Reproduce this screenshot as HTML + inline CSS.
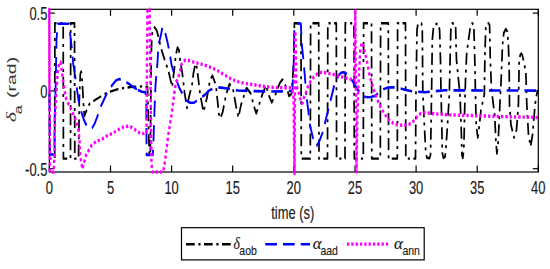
<!DOCTYPE html><html><head><meta charset="utf-8"><style>html,body{margin:0;padding:0;background:#fff;overflow:hidden}svg{display:block}</style></head><body><svg width="550" height="269" viewBox="0 0 550 269">
<rect width="550" height="269" fill="#fff"/>
<g stroke="#000" stroke-width="1.2" fill="none">
<rect x="49.4" y="9.3" width="488.9" height="162.7"/>
<line x1="49.4" y1="172.0" x2="49.4" y2="165.5"/>
<line x1="49.4" y1="9.3" x2="49.4" y2="15.8"/>
<line x1="110.5" y1="172.0" x2="110.5" y2="165.5"/>
<line x1="110.5" y1="9.3" x2="110.5" y2="15.8"/>
<line x1="171.6" y1="172.0" x2="171.6" y2="165.5"/>
<line x1="171.6" y1="9.3" x2="171.6" y2="15.8"/>
<line x1="232.7" y1="172.0" x2="232.7" y2="165.5"/>
<line x1="232.7" y1="9.3" x2="232.7" y2="15.8"/>
<line x1="293.8" y1="172.0" x2="293.8" y2="165.5"/>
<line x1="293.8" y1="9.3" x2="293.8" y2="15.8"/>
<line x1="355.0" y1="172.0" x2="355.0" y2="165.5"/>
<line x1="355.0" y1="9.3" x2="355.0" y2="15.8"/>
<line x1="416.1" y1="172.0" x2="416.1" y2="165.5"/>
<line x1="416.1" y1="9.3" x2="416.1" y2="15.8"/>
<line x1="477.2" y1="172.0" x2="477.2" y2="165.5"/>
<line x1="477.2" y1="9.3" x2="477.2" y2="15.8"/>
<line x1="538.3" y1="172.0" x2="538.3" y2="165.5"/>
<line x1="538.3" y1="9.3" x2="538.3" y2="15.8"/>
<line x1="49.4" y1="168.7" x2="54.9" y2="168.7"/>
<line x1="538.3" y1="168.7" x2="532.8" y2="168.7"/>
<line x1="49.4" y1="90.9" x2="54.9" y2="90.9"/>
<line x1="538.3" y1="90.9" x2="532.8" y2="90.9"/>
<line x1="49.4" y1="13.1" x2="54.9" y2="13.1"/>
<line x1="538.3" y1="13.1" x2="532.8" y2="13.1"/>
</g>
<clipPath id="c"><rect x="46.4" y="6.300000000000001" width="494.9" height="168.7"/></clipPath>
<g clip-path="url(#c)"><g transform="scale(0.72,1)" fill="none" stroke-linejoin="round">
<polyline points="68.75,90.9 69.17,158.6 75.97,158.6 76.25,23.2 87.78,23.2 88.06,158.6 97.92,158.6 98.19,23.2 103.47,23.2 103.89,158.6 109.03,158.6 110.14,100.0 111.53,74.0 112.78,71.5 113.89,78.0 115.00,92.0 116.11,106.0 117.22,116.0 118.75,113.0 121.11,109.0 124.17,104.0 131.94,100.0 138.89,97.0 146.81,93.5 154.17,91.3 163.75,89.2 172.22,88.0 181.39,87.0 191.67,86.5 201.39,86.3 204.86,87.0 207.36,155.0 208.75,155.0 210.00,60.0 210.83,36.0 212.22,30.5 214.58,27.3 217.36,30.0 219.44,35.0 222.22,43.7 224.86,51.0 229.17,61.0 233.89,70.7 237.50,82.0 238.89,87.0 240.28,80.0 242.64,65.6 244.17,55.0 246.53,47.5 248.61,50.0 249.58,57.8 253.19,73.0 256.25,92.3 258.33,102.0 259.72,108.0 262.50,96.8 266.67,84.9 268.75,73.0 271.39,63.4 273.61,68.0 277.92,94.0 282.64,112.0 287.36,97.9 291.67,80.0 295.00,75.6 299.86,85.0 304.03,114.0 305.97,118.3 309.31,112.0 313.89,95.0 318.75,84.0 323.47,88.6 327.78,106.0 331.11,117.5 334.72,105.0 342.36,88.0 347.92,93.0 353.47,108.0 355.97,113.5 358.33,108.0 364.58,94.0 369.44,85.0 372.92,94.5 377.36,102.5 382.50,94.7 388.75,82.8 392.36,79.5 399.03,89.5 401.39,96.0 404.86,94.0 408.33,60.0 408.89,23.2 418.06,23.2 418.47,158.6 430.97,158.6 431.39,23.2 442.64,23.2 443.06,158.6 454.86,158.6 455.28,23.2 467.08,23.2 467.50,158.6 479.17,158.6 479.58,23.2 491.67,23.2 492.08,158.6 504.58,158.6 505.00,23.2 515.97,23.2 516.39,158.6 528.19,158.6 528.61,23.2 539.31,23.2 539.72,158.6 551.81,158.6 552.22,23.2 563.19,23.2 563.61,158.6 577.08,158.6 577.78,91.0 579.17,30.0 580.56,23.5 585.42,23.5 586.53,30.0 587.22,91.0 589.58,128.0 591.39,153.0 593.06,157.8 596.53,158.2 597.92,155.0 598.61,128.0 599.44,91.0 600.42,40.0 602.08,27.0 604.17,24.0 609.03,24.0 610.56,30.0 611.81,60.0 612.50,91.0 613.61,125.0 614.31,153.0 615.97,158.0 618.06,157.0 619.17,150.0 621.25,128.0 624.03,95.0 625.42,50.0 626.39,25.0 628.47,23.3 631.25,23.5 632.78,27.0 634.03,60.0 636.81,80.0 638.89,95.0 640.56,128.0 641.67,155.0 642.78,158.0 644.17,150.0 644.86,128.0 645.28,112.0 646.53,80.0 648.19,53.0 650.69,40.0 653.61,25.0 655.83,23.2 658.06,25.0 659.44,60.0 660.56,100.0 661.39,125.0 663.61,137.5 665.28,128.0 668.06,110.0 672.64,95.0 673.61,50.0 674.72,28.0 676.39,23.5 678.47,23.3 680.00,25.0 680.97,60.0 682.64,90.0 687.08,115.0 688.61,140.0 690.14,153.5 691.67,145.0 693.33,120.0 694.86,95.0 695.83,83.4 697.92,45.0 699.72,33.0 702.50,29.0 704.58,31.5 706.11,45.0 707.22,70.0 707.64,105.0 709.72,125.0 713.89,137.5 717.36,130.0 720.00,105.0 721.11,62.0 722.50,55.0 723.89,53.5 725.42,55.0 728.47,65.0 730.42,73.4 731.67,105.0 734.03,135.0 736.94,146.5 739.58,135.0 742.78,108.0 744.17,99.0 745.83,93.0 748.06,90.0" stroke="#000" stroke-width="2.4" stroke-dasharray="12.1 5.1 3.0 4.8"/>
<polyline points="68.75,92.0 69.17,154.5 75.56,154.5 75.97,120.0 77.50,80.0 78.47,40.0 80.14,23.8 95.83,23.8 97.22,32.5 99.72,48.5 101.81,64.5 104.17,74.6" stroke="#0000ff" stroke-width="2.6" stroke-dasharray="16.2 8.4" stroke-dashoffset="21.98"/>
<polyline points="104.17,74.6 108.75,99.0 111.81,109.5 116.39,119.5 119.44,124.5 123.61,127.8 127.92,128.0 131.25,124.0 134.44,118.0 140.28,106.0 148.33,93.5 152.78,88.0 157.36,83.7 161.11,80.5 165.00,79.1 169.44,79.5 173.61,81.5 178.89,83.7 184.72,86.8 191.53,90.0" stroke="#0000ff" stroke-width="2.6" stroke-dasharray="16.2 8.4" stroke-dashoffset="11.55"/>
<polyline points="191.53,90.0 197.22,91.8 202.08,92.3 203.19,100.0 203.61,155.0 212.22,155.0 213.19,140.0 214.58,110.0 215.97,85.0 218.47,65.0 220.28,44.4 223.33,35.5 225.69,27.0 227.78,28.5 229.86,34.0 232.36,41.2 234.86,50.0 238.33,65.0 242.50,75.5 246.53,83.0 249.31,88.3 252.08,92.0 256.25,97.5 260.42,101.2 263.89,102.8 269.72,102.7 273.61,100.5 277.92,98.3 284.31,95.0 290.83,90.3 299.86,87.5 306.94,87.6 315.28,88.5 330.56,90.5 347.22,91.0 375.00,91.5 395.83,91.3 406.11,90.8 408.06,60.0 408.75,31.0 411.81,23.5 417.78,23.5 419.17,44.5 421.53,60.6 423.61,78.0 425.42,95.0" stroke="#0000ff" stroke-width="2.6" stroke-dasharray="16.2 8.4" stroke-dashoffset="2.54"/>
<polyline points="425.42,95.0 428.47,112.3 429.58,122.3 434.72,138.1 437.22,143.0 439.86,145.7 443.06,142.0 447.64,133.5 451.53,122.5 456.67,107.5 460.97,95.0 464.17,85.5 470.56,75.1 473.61,72.8 477.08,72.3 482.22,74.2 486.11,77.5 490.00,81.6 494.44,87.0 499.86,92.7 504.17,96.0 509.44,97.3" stroke="#0000ff" stroke-width="2.6" stroke-dasharray="16.2 8.4" stroke-dashoffset="20.28"/>
<polyline points="509.44,97.3 515.28,97.0 521.81,95.4 527.78,91.5 533.33,88.9 538.89,87.6 546.25,87.3 553.33,87.9 562.50,89.8 571.94,91.3 590.56,92.2 604.17,91.2 618.06,90.3 652.78,90.4 694.44,90.5 747.92,90.6" stroke="#0000ff" stroke-width="2.6" stroke-dasharray="16.2 8.4" stroke-dashoffset="0.00"/>
<polyline points="68.75,90.0 68.47,9.3 69.17,172.0 74.72,172.0 75.83,150.0 76.11,120.0 78.06,95.0 79.03,85.0 79.86,75.0 80.97,68.0 82.36,63.5 84.03,62.0 85.14,66.0 86.53,75.0 88.06,84.0 89.72,90.3 90.97,96.8 93.06,101.0 95.42,104.5 100.00,111.0 105.56,120.5 109.31,131.4 110.56,142.0 111.25,155.0 113.19,163.5 114.58,169.0 116.39,164.0 119.31,155.5 123.47,150.1 127.64,144.8 134.17,141.2 140.83,139.6 147.22,136.4 157.64,132.7 167.92,128.0 172.92,126.6 178.19,126.2 181.94,127.0 185.97,128.9 193.75,132.7 200.14,133.6 203.47,132.5 204.72,9.3 207.78,9.3 210.28,160.0 211.39,172.0 226.39,172.0 228.47,165.0 233.75,135.0 238.19,115.0 242.08,93.0 243.06,89.5 243.89,84.3 247.50,77.8 250.00,71.3 251.39,65.5 254.17,61.6 257.64,60.1 262.92,60.7 268.75,62.2 277.78,63.8 284.17,65.1 295.69,68.2 304.17,71.5 313.33,75.5 322.22,79.5 331.11,81.8 340.28,83.5 351.67,84.6 363.89,86.2 376.94,87.3 388.89,87.6 399.72,87.8 404.86,87.8 407.64,95.0 409.03,173.5 410.14,31.0 411.11,60.0 411.67,86.1 414.58,91.7 417.64,100.0 419.17,103.5 420.56,102.5 422.22,97.3 425.42,91.7 427.78,86.1 431.94,80.5 437.92,75.3 442.36,73.0 447.50,72.2 452.78,72.8 461.53,74.2 468.06,75.5 475.69,77.0 483.06,78.5 488.89,79.5 492.36,80.0 493.47,9.3 495.14,172.0 496.25,120.0 497.50,90.0 498.89,70.0 500.42,50.0 502.36,42.5 504.44,46.0 507.50,54.2 510.42,64.0 512.78,73.5 515.97,82.0 519.17,89.9 522.92,97.5 526.94,104.7 531.25,110.5 535.97,115.9 540.97,120.5 546.25,123.3 551.39,124.8 558.75,125.3 567.78,124.4 571.53,122.8 575.56,120.4 579.58,116.8 583.33,114.0 586.81,113.0 590.97,112.8 597.22,113.3 605.28,113.9 625.00,114.9 652.78,115.5 680.56,116.2 708.33,116.8 747.92,117.5" stroke="#ff00ff" stroke-width="3.4" stroke-dasharray="3.2 2.8"/>
</g></g>
<g font-family="Liberation Sans, sans-serif" font-size="18.5" fill="#1a1a1a" stroke="#1a1a1a" stroke-width="0.15">
<text transform="translate(49.4,193.5) scale(0.7,1)" text-anchor="middle">0</text>
<text transform="translate(110.5,193.5) scale(0.7,1)" text-anchor="middle">5</text>
<text transform="translate(171.6,193.5) scale(0.7,1)" text-anchor="middle">10</text>
<text transform="translate(232.7,193.5) scale(0.7,1)" text-anchor="middle">15</text>
<text transform="translate(293.8,193.5) scale(0.7,1)" text-anchor="middle">20</text>
<text transform="translate(355.0,193.5) scale(0.7,1)" text-anchor="middle">25</text>
<text transform="translate(416.1,193.5) scale(0.7,1)" text-anchor="middle">30</text>
<text transform="translate(477.2,193.5) scale(0.7,1)" text-anchor="middle">35</text>
<text transform="translate(538.3,193.5) scale(0.7,1)" text-anchor="middle">40</text>
<text transform="translate(47.4,20.0) scale(0.7,1)" text-anchor="end">0.5</text>
<text transform="translate(47.4,97.8) scale(0.7,1)" text-anchor="end">0</text>
<text transform="translate(47.4,175.6) scale(0.7,1)" text-anchor="end">-0.5</text>
<text transform="translate(292.8,218.5) scale(0.7,1)" text-anchor="middle">time (s)</text>
<text transform="translate(15.8,122.3) rotate(-90) scale(1,0.7)" font-size="22" stroke-width="0" fill="#383838" font-family="Liberation Serif, serif" font-style="italic">δ</text>
<text transform="translate(21.7,114.2) rotate(-90) scale(1,0.7)" font-size="16" stroke-width="0" fill="#383838" >a</text>
<text transform="translate(15.5,98.0) rotate(-90) scale(1,0.7)" font-size="19.5" stroke-width="0" fill="#383838" >(rad)</text>
</g>
<rect x="181.5" y="227.7" width="242.7" height="32.2" fill="#fff" stroke="#000" stroke-width="1.2"/>
<g transform="scale(0.72,1)" fill="none">
<line x1="258.33" y1="244.2" x2="320.42" y2="244.2" stroke="#000" stroke-width="2.4" stroke-dasharray="12.1 5.1 3.0 4.8"/>
<line x1="368.47" y1="244.3" x2="430.56" y2="244.3" stroke="#0000ff" stroke-width="2.6" stroke-dasharray="16.2 8.4"/>
<line x1="481.94" y1="244.1" x2="541.67" y2="244.1" stroke="#ff00ff" stroke-width="3.4" stroke-dasharray="3.2 2.8"/>
</g>
<g font-family="Liberation Sans, sans-serif" fill="#1a1a1a" stroke="#1a1a1a" stroke-width="0.15">
<text transform="translate(233.6,248.6) scale(0.85,1)" font-size="16" font-family="Liberation Serif, serif" font-style="italic">δ</text>
<text transform="translate(239.3,254.6) scale(0.84,1)" font-size="12.5">aob</text>
<text transform="translate(312.8,248.6) scale(1.05,1)" font-size="16" font-family="Liberation Serif, serif" font-style="italic">α</text>
<text transform="translate(320.4,254.6) scale(0.84,1)" font-size="12.5">aad</text>
<text transform="translate(394.0,248.6) scale(1.05,1)" font-size="16" font-family="Liberation Serif, serif" font-style="italic">α</text>
<text transform="translate(402.4,254.6) scale(0.84,1)" font-size="12.5">ann</text>
</g>
</svg></body></html>
